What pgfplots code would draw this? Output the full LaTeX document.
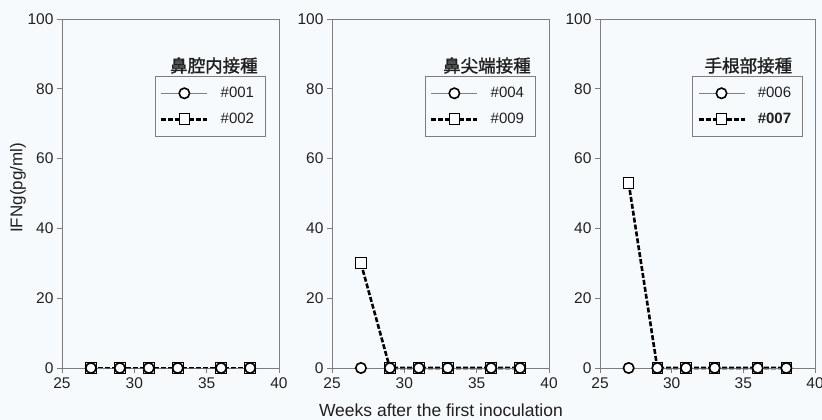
\documentclass[border=0pt]{standalone}
\usepackage{pgfplots}
\pgfplotsset{compat=1.18}
\usepackage{fontspec}
\setmainfont{Liberation Sans}
\newfontfamily\cjk{Noto Sans CJK JP}[FakeBold=1.5]
\definecolor{bg}{RGB}{247,250,252}
\definecolor{frame}{RGB}{125,125,125}
\definecolor{txt}{RGB}{32,32,32}

\tikzset{ttl/.style={anchor=south, inner sep=1pt, font=\cjk\fontsize{17.5}{18}\selectfont, text=txt}}
\newcommand{\legtxt}[1]{\makebox[37pt][l]{#1}}

\pgfplotsset{
 panel/.style={
  scale only axis, width=217pt, height=349pt,
  xmin=25,xmax=40,ymin=0,ymax=100,
  xtick={25,30,35,40}, ytick={0,20,...,100},
  axis line style={frame, line width=0.9pt},
  tick style={frame, line width=0.9pt},
  tick align=outside, xtick pos=bottom, ytick pos=left,
  major tick length=5pt,
  tick label style={font=\fontsize{15.5}{17}\selectfont, text=txt},
  xticklabel style={yshift=-1pt},
  /pgf/number format/assume math mode=true,
  clip=false,
  legend style={at={(0.427,0.837)}, anchor=north west, draw=frame, line width=0.8pt, fill=none,
    font=\fontsize{15}{17}\selectfont, text=txt, inner xsep=5pt, inner ysep=7.5pt,
    nodes={inner sep=3pt, text height=11pt, text depth=2pt},
    /tikz/every odd column/.append style={column sep=9pt}, row sep=7pt},
  legend cell align=left,
  reverse legend,
  legend image code/.code={\draw[mark repeat=2,mark phase=2,##1] plot coordinates {(0pt,0pt) (23pt,0pt) (46pt,0pt)};},
 },
 sA/.style={color=gray, line width=0.9pt, mark=*, mark size=5.2pt,
   mark options={fill=white, draw=black, line width=1.6pt, solid}},
 sB/.style={color=black, line width=2.6pt, dash pattern=on 5pt off 2pt, mark=square*, mark size=5.3pt,
   mark options={fill=white, draw=black, line width=1pt, solid}},
}

\begin{document}
\begin{tikzpicture}
\path[use as bounding box, fill=bg] (0,0) rectangle (822pt,420pt);

\begin{axis}[panel, at={(62pt,52pt)}, anchor=south west,
  ylabel={IFNg(pg/ml)},
  ylabel style={at={(axis description cs:-0.203,0.516)}, anchor=center, font=\fontsize{17}{19}\selectfont, text=txt}]
\addplot[sB] coordinates {(27,0) (29,0) (31,0) (33,0) (36,0) (38,0)};
\addlegendentry{\legtxt{\#002}}
\addplot[sA] coordinates {(27,0) (29,0) (31,0) (33,0) (36,0) (38,0)};
\addlegendentry{\legtxt{\#001}}
\node[ttl] at (rel axis cs:0.70,0.84) {鼻腔内接種};
\end{axis}

\begin{axis}[panel, at={(332pt,52pt)}, anchor=south west,
  xlabel={Weeks after the first inoculation},
  xlabel style={at={(axis description cs:0.502,-0.12)}, anchor=center, font=\fontsize{17.5}{19}\selectfont, text=txt}]
\addplot[sB] coordinates {(27,30) (29,0) (31,0) (33,0) (36,0) (38,0)};
\addlegendentry{\legtxt{\#009}}
\addplot[sA] coordinates {(27,0) (29,0) (31,0) (33,0) (36,0) (38,0)};
\addlegendentry{\legtxt{\#004}}
\node[ttl] at (rel axis cs:0.714,0.84) {鼻尖端接種};
\end{axis}

\begin{axis}[panel, at={(600pt,52pt)}, anchor=south west, width=215pt]
\addplot[sB] coordinates {(27,53) (29,0) (31,0) (33,0) (36,0) (38,0)};
\addlegendentry{\legtxt{\textbf{\#007}}}
\addplot[sA] coordinates {(27,0) (29,0) (31,0) (33,0) (36,0) (38,0)};
\addlegendentry{\legtxt{\#006}}
\node[ttl] at (rel axis cs:0.69,0.84) {手根部接種};
\end{axis}
\end{tikzpicture}
\end{document}
